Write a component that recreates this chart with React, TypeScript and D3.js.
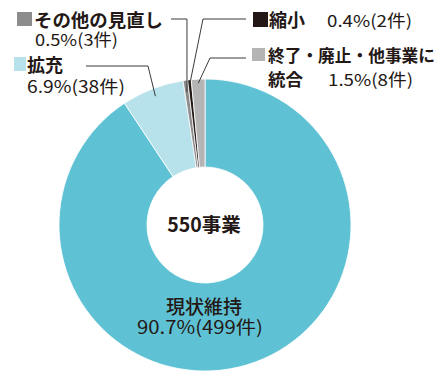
import React from "react";
import * as d3 from "d3";

const categories = ["現状維持", "拡充", "その他の見直し", "縮小", "終了・廃止・他事業に統合"];
const percents = [90.7, 6.9, 0.5, 0.4, 1.5];
const counts = [499, 38, 3, 2, 8];
const colors = ["#5ec2d4", "#b8e2eb", "#8c8c8c", "#231815", "#b4b4b4"];
const totalLabel = "550事業";

const W = 440, H = 378;
const cx = 205, cy = 225, R = 146, r0 = 58;
const FONT = "'Noto Sans CJK JP', 'Noto Sans', sans-serif";

export default function App() {
  const pie = d3.pie<number>().sort(null).value((d) => d).startAngle(0).endAngle(2 * Math.PI);
  const arcs = pie(percents);
  const arc = d3.arc<d3.PieArcDatum<number>>().innerRadius(r0).outerRadius(R);
  const pt = (i: number, rad: number) => {
    const a = (arcs[i].startAngle + arcs[i].endAngle) / 2;
    return [cx + rad * Math.sin(a), cy - rad * Math.cos(a)];
  };
  const fmt = (i: number) => `${percents[i]}%(${counts[i]}件)`;

  const pOther = pt(2, R - 12);
  const pShrink = pt(3, R - 4);
  const pEnd = pt(4, R - 4);
  const pExp = pt(1, R - 8);

  const lineStyle = { stroke: "#3a3a3a", strokeWidth: 1, fill: "none" };
  const boldStyle: React.CSSProperties = { fontFamily: FONT, fontWeight: 700, fill: "#231815" };
  const regStyle: React.CSSProperties = { fontFamily: FONT, fontWeight: 400, fill: "#231815" };

  return (
    <svg width={W} height={H} style={{ position: "absolute", left: 0, top: 0, background: "#fff" }}>
      <g>
        {arcs.map((a, i) => (
          <path key={i} d={arc(a) || ""} transform={`translate(${cx},${cy})`} fill={colors[i]}
            stroke="#fff" strokeWidth={0.8} />
        ))}
      </g>
      <polyline points={`171,19 ${pOther[0]},19 ${pOther[0]},${pOther[1]}`} style={lineStyle} />
      <polyline points={`246,19 203,19 ${pShrink[0]},${pShrink[1]}`} style={lineStyle} />
      <polyline points={`246,58 210,58 ${pEnd[0]},${pEnd[1]}`} style={lineStyle} />
      <polyline points={`86,66 148,66 ${pExp[0]},${pExp[1]}`} style={lineStyle} />

      <rect x={17} y={12} width={15} height={14} fill={colors[2]} />
      <text x={34} y={27} fontSize={18} textLength={129} lengthAdjust="spacingAndGlyphs" style={boldStyle}>{categories[2]}</text>
      <text x={35} y={46} fontSize={16.5} textLength={83} lengthAdjust="spacingAndGlyphs" style={regStyle}>{fmt(2)}</text>

      <rect x={14} y={57} width={12} height={14} fill={colors[1]} />
      <text x={27} y={72} fontSize={18} style={boldStyle}>{categories[1]}</text>
      <text x={27} y={93} fontSize={17} textLength={98} lengthAdjust="spacingAndGlyphs" style={regStyle}>{fmt(1)}</text>

      <rect x={253} y={12} width={15} height={15} fill={colors[3]} />
      <text x={269} y={27} fontSize={18} style={boldStyle}>縮小</text>
      <text x={327} y={27} fontSize={16.5} textLength={85} lengthAdjust="spacingAndGlyphs" style={regStyle}>{fmt(3)}</text>

      <rect x={252} y={48} width={13} height={13} fill={colors[4]} />
      <text x={268} y={62} fontSize={16.5} textLength={167} lengthAdjust="spacingAndGlyphs" style={boldStyle}>終了・廃止・他事業に</text>
      <text x={268} y={86} fontSize={17.5} style={boldStyle}>統合</text>
      <text x={328} y={86} fontSize={16.5} textLength={85} lengthAdjust="spacingAndGlyphs" style={regStyle}>{fmt(4)}</text>

      <text x={cx - 1} y={cy + 7} fontSize={19.5} textAnchor="middle" style={boldStyle}>{totalLabel}</text>

      <text x={204} y={314} fontSize={19} textAnchor="middle" style={{ ...regStyle, fontWeight: 500 }}>{categories[0]}</text>
      <text x={200} y={334} fontSize={18} textAnchor="middle" textLength={126} lengthAdjust="spacingAndGlyphs" style={regStyle}>{fmt(0)}</text>
    </svg>
  );
}
